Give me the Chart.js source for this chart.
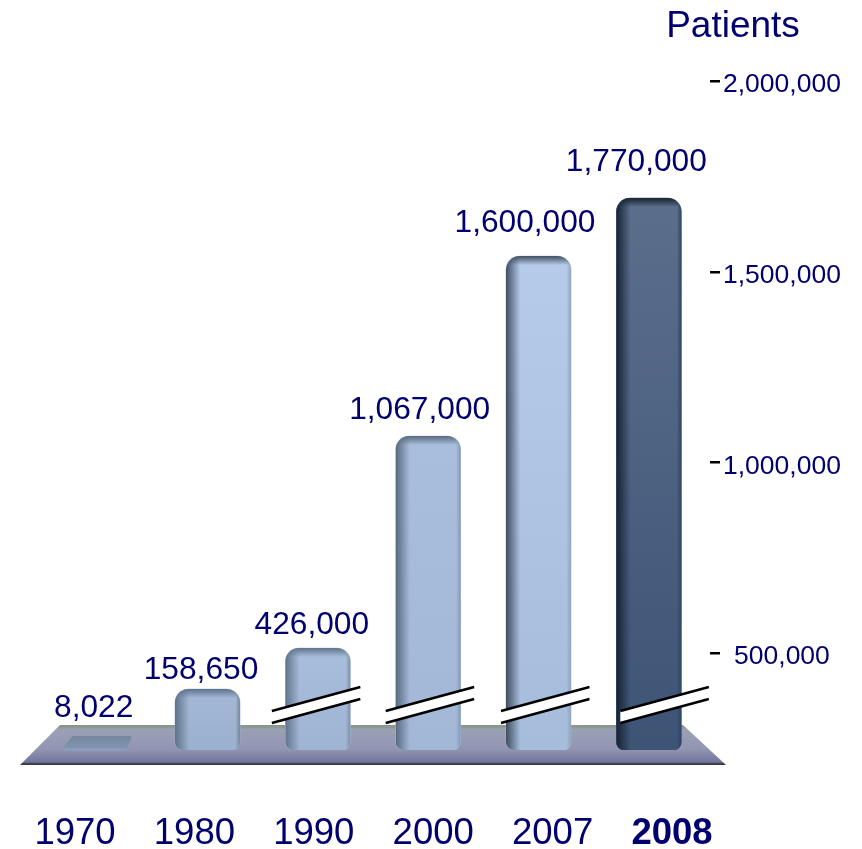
<!DOCTYPE html>
<html>
<head>
<meta charset="utf-8">
<style>
  html, body { margin: 0; padding: 0; background: #fff; }
  canvas { display: block; }
</style>
<script src="https://cdn.jsdelivr.net/npm/chart.js@4"></script>
</head>
<body>
<canvas id="patientsChart" width="862" height="849"></canvas>
<script>
const categories = ['1970', '1980', '1990', '2000', '2007', '2008'];
// numbers printed above the bars
const patientLabels = ['8,022', '158,650', '426,000', '1,067,000', '1,600,000', '1,770,000'];
const barHeights = [282300, 405600, 513100, 1069000, 1541000, 1693000];
const axisTicks = [500000, 1000000, 1500000, 2000000];
const axisBottom = 245600;
const axisTop = 2000000;

const navy = '#00006e';
const font = 'Liberation Sans';

// bar index -> [left edge, body colour top, body colour bottom, right edge]
const barColors = [
  null,
  ['#5d7189', '#a4b9d7', '#9bb0ce', '#74879d'],
  ['#5f738b', '#a9bedc', '#9fb4d2', '#7c8fa6'],
  ['#56697f', '#a9bedd', '#a3b8d7', '#8398b0'],
  ['#3f4e60', '#b6cbe9', '#a6bcdb', '#8fa4be'],
  ['#15222f', '#5b6e8c', '#3e5476', '#2e4464']
];

// text and decoration offsets
const labelShiftX = [-3.5, -6.5, -6, -8.5, -13.5, -12.5];
const labelGapY = [29, 20, 24, 27, 34, 37];
const breakStartX = [null, null, -46, -42.5, -37.5, -28.5];

function barBase(context) {
  const colors = barColors[context.dataIndex];
  return colors ? colors[2] : 'rgba(0,0,0,0)';
}

// floor under the bars, tied to the chart area
const floorPlugin = {
  id: 'floor',
  beforeDatasetsDraw(chart) {
    const ctx = chart.ctx;
    const base = chart.scales.y.getPixelForValue(axisBottom);
    const top = base - 25;
    const bottom = base + 15;
    const g = ctx.createLinearGradient(0, top, 0, bottom);
    g.addColorStop(0, '#87938b');
    g.addColorStop(0.07, '#8f9a96');
    g.addColorStop(0.12, '#9ca0b6');
    g.addColorStop(0.6, '#9295b0');
    g.addColorStop(0.93, '#72769f');
    g.addColorStop(0.96, '#45454f');
    g.addColorStop(1, '#33333b');
    ctx.save();
    ctx.fillStyle = g;
    ctx.beginPath();
    ctx.moveTo(60, top);
    ctx.lineTo(683, top);
    ctx.lineTo(726, bottom);
    ctx.lineTo(20, bottom);
    ctx.closePath();
    ctx.fill();
    ctx.restore();
  }
};

const barDetailPlugin = {
  id: 'barDetail',
  afterDatasetsDraw(chart) {
    const ctx = chart.ctx;
    const bars = chart.getDatasetMeta(0).data;
    ctx.save();

    // 1970 is only a flat slab lying on the floor
    const slab = bars[0];
    const slabGrad = ctx.createLinearGradient(0, slab.y, 0, slab.base);
    slabGrad.addColorStop(0, '#76879e');
    slabGrad.addColorStop(0.8, '#7f93ae');
    slabGrad.addColorStop(1, '#8ea3bd');
    ctx.fillStyle = slabGrad;
    ctx.strokeStyle = slabGrad;
    ctx.lineWidth = 3;
    ctx.lineJoin = 'round';
    ctx.beginPath();
    ctx.moveTo(slab.x - 24, slab.y + 1.5);
    ctx.lineTo(slab.x + 33, slab.y + 1.5);
    ctx.lineTo(slab.x + 28, slab.base - 1);
    ctx.lineTo(slab.x - 33, slab.base - 1);
    ctx.closePath();
    ctx.fill();
    ctx.stroke();

    // top bevel and side shading of the other bars
    bars.forEach((bar, i) => {
      const colors = barColors[i];
      if (!colors) return;
      const left = bar.x - bar.width / 2;
      const right = bar.x + bar.width / 2;
      const height = bar.base - bar.y;
      ctx.save();
      ctx.beginPath();
      ctx.roundRect(left, bar.y, bar.width, height, [14, 14, 8, 8]);
      ctx.clip();

      const body = ctx.createLinearGradient(0, bar.y, 0, bar.base);
      body.addColorStop(0, colors[1]);
      body.addColorStop(1, colors[2]);
      ctx.fillStyle = body;
      ctx.fillRect(left, bar.y, bar.width, height);

      const sideL = ctx.createLinearGradient(left, 0, left + bar.width * 0.22, 0);
      sideL.addColorStop(0, colors[0]);
      sideL.addColorStop(1, colors[0] + '00');
      ctx.fillStyle = sideL;
      ctx.fillRect(left, bar.y, bar.width * 0.22, height);

      const sideR = ctx.createLinearGradient(right - bar.width * 0.07, 0, right, 0);
      sideR.addColorStop(0, colors[3] + '00');
      sideR.addColorStop(1, colors[3]);
      ctx.fillStyle = sideR;
      ctx.fillRect(right - bar.width * 0.07, bar.y, bar.width * 0.07, height);

      const cap = ctx.createLinearGradient(0, bar.y, 0, bar.y + 9);
      cap.addColorStop(0, colors[0]);
      cap.addColorStop(1, colors[0] + '00');
      ctx.fillStyle = cap;
      ctx.fillRect(left, bar.y, bar.width, 9);
      ctx.restore();
    });
    ctx.restore();
  }
};

// slanted double stroke showing the broken axis
const axisBreakPlugin = {
  id: 'axisBreak',
  afterDatasetsDraw(chart) {
    const ctx = chart.ctx;
    const bars = chart.getDatasetMeta(0).data;
    const base = chart.scales.y.getPixelForValue(axisBottom);
    ctx.save();
    bars.forEach((bar, i) => {
      if (breakStartX[i] === null) return;
      const x0 = bar.x + breakStartX[i];
      const x1 = x0 + 88.5;
      ctx.fillStyle = '#fff';
      ctx.beginPath();
      ctx.moveTo(x0, base - 39);
      ctx.lineTo(x1, base - 63);
      ctx.lineTo(x1, base - 51);
      ctx.lineTo(x0, base - 27);
      ctx.closePath();
      ctx.fill();
      ctx.strokeStyle = '#000';
      ctx.lineWidth = 2.5;
      ctx.beginPath();
      ctx.moveTo(x0, base - 39);
      ctx.lineTo(x1, base - 63);
      ctx.moveTo(x0, base - 27);
      ctx.lineTo(x1, base - 51);
      ctx.stroke();
    });
    ctx.restore();
  }
};

const textPlugin = {
  id: 'chartText',
  afterDraw(chart) {
    const ctx = chart.ctx;
    const bars = chart.getDatasetMeta(0).data;
    const yScale = chart.scales.y;
    ctx.save();
    ctx.textAlign = 'center';
    ctx.textBaseline = 'middle';
    ctx.fillStyle = navy;

    // numbers above the bars
    ctx.font = '31.7px "' + font + '"';
    bars.forEach((bar, i) => {
      ctx.fillText(patientLabels[i], bar.x + labelShiftX[i], bar.y - labelGapY[i] + 1);
    });

    // years sit on a wider spacing than the bars
    categories.forEach((year, i) => {
      ctx.font = (i === categories.length - 1 ? 'bold ' : '') + '36.5px "' + font + '"';
      ctx.fillText(year, 75 + i * 119.4, 834);
    });

    // axis title
    ctx.font = '37px "' + font + '"';
    ctx.fillText('Patients', 733, 27);

    // short tick dashes
    ctx.fillStyle = '#000';
    axisTicks.forEach(t => {
      ctx.fillRect(710, Math.round(yScale.getPixelForValue(t)) - 1, 10, 2.5);
    });
    ctx.restore();
  }
};

new Chart(document.getElementById('patientsChart'), {
  type: 'bar',
  data: {
    labels: categories,
    datasets: [{
      data: barHeights,
      barThickness: 65,
      base: axisBottom,
      backgroundColor: barBase,
      borderWidth: 0,
      borderSkipped: false,
      borderRadius: { topLeft: 14, topRight: 14, bottomLeft: 8, bottomRight: 8 }
    }]
  },
  options: {
    responsive: false,
    animation: false,
    layout: { padding: { left: 42, right: 0, top: 81, bottom: 99 } },
    plugins: { legend: { display: false }, tooltip: { enabled: false } },
    scales: {
      x: {
        display: false,
        grid: { display: false }
      },
      y: {
        position: 'right',
        min: axisBottom,
        max: axisTop,
        afterBuildTicks(axis) {
          axis.ticks = axisTicks.map(v => ({ value: v }));
        },
        afterFit(axis) {
          axis.width = 158;
        },
        border: { display: false },
        grid: { display: false, drawTicks: false },
        ticks: {
          color: navy,
          font: { family: font, size: 26.5 },
          padding: 19,
          labelOffset: 4,
          crossAlign: 'center',
          callback: v => v.toLocaleString('en-US')
        }
      }
    }
  },
  plugins: [floorPlugin, barDetailPlugin, axisBreakPlugin, textPlugin]
});
</script>
</body>
</html>
